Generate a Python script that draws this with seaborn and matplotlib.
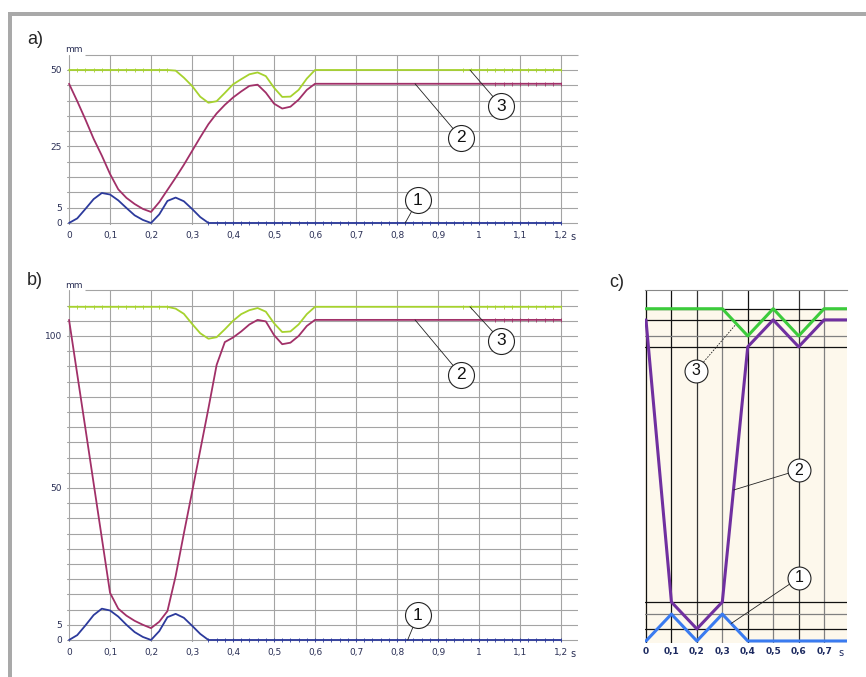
#%% Packages
import numpy as np
import pandas as pd
import matplotlib
matplotlib.use("Agg")
import matplotlib.pyplot as plt
from matplotlib.patches import Rectangle
import seaborn as sns

#%% Data (mm over s)
t_ab = np.round(np.linspace(0, 1.2, 61), 2)

a_curve1 = [0.0, 1.5, 4.6, 7.8, 9.8, 9.3, 7.4, 4.9, 2.5, 1.0,
            0.0, 2.8, 7.2, 8.3, 7.1, 4.6, 1.9, 0.0, 0.0, 0.0,
            0.0, 0.0, 0.0, 0.0, 0.0, 0.0, 0.0, 0.0, 0.0, 0.0,
            0.0, 0.0, 0.0, 0.0, 0.0, 0.0, 0.0, 0.0, 0.0, 0.0,
            0.0, 0.0, 0.0, 0.0, 0.0, 0.0, 0.0, 0.0, 0.0, 0.0,
            0.0, 0.0, 0.0, 0.0, 0.0, 0.0, 0.0, 0.0, 0.0, 0.0,
            0.0]
a_curve2 = [45.5, 39.8, 33.8, 27.5, 22.0, 16.0, 11.0, 8.2, 6.2, 4.6,
            3.6, 6.8, 10.8, 14.8, 19.0, 23.5, 28.0, 32.3, 35.8, 38.6,
            41.0, 43.0, 44.8, 45.2, 42.6, 39.0, 37.4, 38.0, 40.3, 43.5,
            45.5, 45.5, 45.5, 45.5, 45.5, 45.5, 45.5, 45.5, 45.5, 45.5,
            45.5, 45.5, 45.5, 45.5, 45.5, 45.5, 45.5, 45.5, 45.5, 45.5,
            45.5, 45.5, 45.5, 45.5, 45.5, 45.5, 45.5, 45.5, 45.5, 45.5,
            45.5]
a_curve3 = [50.0, 50.0, 50.0, 50.0, 50.0, 50.0, 50.0, 50.0, 50.0, 50.0,
            50.0, 50.0, 50.0, 49.8, 47.5, 44.8, 41.3, 39.3, 39.8, 42.5,
            45.3, 47.0, 48.6, 49.2, 48.0, 44.2, 41.2, 41.3, 43.5, 47.2,
            50.0, 50.0, 50.0, 50.0, 50.0, 50.0, 50.0, 50.0, 50.0, 50.0,
            50.0, 50.0, 50.0, 50.0, 50.0, 50.0, 50.0, 50.0, 50.0, 50.0,
            50.0, 50.0, 50.0, 50.0, 50.0, 50.0, 50.0, 50.0, 50.0, 50.0,
            50.0]

b_curve1 = [0.0, 1.6, 4.8, 8.2, 10.3, 9.7, 7.7, 5.0, 2.6, 1.0,
            0.0, 2.9, 7.5, 8.6, 7.3, 4.7, 2.0, 0.0, 0.0, 0.0,
            0.0, 0.0, 0.0, 0.0, 0.0, 0.0, 0.0, 0.0, 0.0, 0.0,
            0.0, 0.0, 0.0, 0.0, 0.0, 0.0, 0.0, 0.0, 0.0, 0.0,
            0.0, 0.0, 0.0, 0.0, 0.0, 0.0, 0.0, 0.0, 0.0, 0.0,
            0.0, 0.0, 0.0, 0.0, 0.0, 0.0, 0.0, 0.0, 0.0, 0.0,
            0.0]
b_curve2 = [105.3, 87.4, 69.5, 51.5, 33.5, 15.5, 10.3, 8.0, 6.3, 5.0,
            3.9, 6.0, 9.5, 21.0, 35.0, 48.6, 62.4, 76.2, 90.5, 98.0,
            99.5, 101.5, 103.8, 105.3, 104.8, 100.3, 97.3, 97.8, 100.0, 103.3,
            105.3, 105.3, 105.3, 105.3, 105.3, 105.3, 105.3, 105.3, 105.3, 105.3,
            105.3, 105.3, 105.3, 105.3, 105.3, 105.3, 105.3, 105.3, 105.3, 105.3,
            105.3, 105.3, 105.3, 105.3, 105.3, 105.3, 105.3, 105.3, 105.3, 105.3,
            105.3]
b_curve3 = [109.6, 109.6, 109.6, 109.6, 109.6, 109.6, 109.6, 109.6, 109.6, 109.6,
            109.6, 109.6, 109.6, 109.0, 107.3, 104.0, 100.9, 99.1, 99.6, 102.2,
            105.0, 107.2, 108.5, 109.2, 108.0, 104.2, 101.3, 101.5, 103.8, 107.2,
            109.6, 109.6, 109.6, 109.6, 109.6, 109.6, 109.6, 109.6, 109.6, 109.6,
            109.6, 109.6, 109.6, 109.6, 109.6, 109.6, 109.6, 109.6, 109.6, 109.6,
            109.6, 109.6, 109.6, 109.6, 109.6, 109.6, 109.6, 109.6, 109.6, 109.6,
            109.6]

# panel c: idealised, piecewise linear
t_c = [0.0, 0.1, 0.2, 0.3, 0.4, 0.5, 0.6, 0.7, 0.79]
c_curve1 = [0.0, 8.9, 0.0, 8.9, 0.0, 0.0, 0.0, 0.0, 0.0]
c_curve2 = [106.3, 12.9, 4.0, 12.9, 97.4, 106.3, 97.4, 106.3, 106.3]
c_curve3 = [110.0, 110.0, 110.0, 110.0, 101.0, 110.0, 101.0, 110.0, 110.0]

x_ticks_ab = [0, 0.1, 0.2, 0.3, 0.4, 0.5, 0.6, 0.7, 0.8, 0.9, 1.0, 1.1, 1.2]
x_labels_ab = ["0", "0,1", "0,2", "0,3", "0,4", "0,5", "0,6",
               "0,7", "0,8", "0,9", "1", "1,1", "1,2"]
y_labels_a = [0, 5, 25, 50]
y_labels_b = [0, 5, 50, 100]
x_labels_c = ["0", "0,1", "0,2", "0,3", "0,4", "0,5", "0,6", "0,7"]

#%% Long tables for seaborn
def long_df(t, curves):
    frames = [pd.DataFrame({"t": t, "mm": v, "curve": k}) for k, v in curves.items()]
    return pd.concat(frames, ignore_index=True)

df_a = long_df(t_ab, {"1": a_curve1, "2": a_curve2, "3": a_curve3})
df_b = long_df(t_ab, {"1": b_curve1, "2": b_curve2, "3": b_curve3})
df_c = long_df(t_c, {"1": c_curve1, "2": c_curve2, "3": c_curve3})

pal_ab = {"1": "#2c3a9c", "2": "#a13068", "3": "#a6d22e"}
pal_c = {"1": "#3a7bf0", "2": "#7030a0", "3": "#3ccb3c"}

#%% Figure
W, H = 866, 677
sns.set_style("white")
plt.rcParams["font.family"] = ["DejaVu Sans"]
fig = plt.figure(figsize=(W / 100, H / 100), dpi=100)

def px_axes(left, top, right, bottom):
    return fig.add_axes([left / W, 1 - bottom / H, (right - left) / W, (bottom - top) / H])

def ftext(x, y, s, **kw):
    fig.text(x / W, 1 - y / H, s, **kw)

# grey frame round the picture
fig.add_artist(Rectangle((8 / W, 0), 4 / W, (H - 12) / H, transform=fig.transFigure,
                         color="#a9a9a9", lw=0))
fig.add_artist(Rectangle((8 / W, 1 - 16 / H), (W - 8) / W, 4 / H, transform=fig.transFigure,
                         color="#a9a9a9", lw=0))

GRID = "#a4a4a4"
TICK = "#2a2f55"

def circle_note(ax, xc, yc, label, x0, y0, ms=18.7, fs=12.5, ls="-"):
    ax.plot([x0, xc], [y0, yc], color="#222222", lw=0.6, ls=ls, zorder=5, clip_on=False)
    ax.plot([xc], [yc], marker="o", ms=ms, mfc="white", mec="#222222", mew=0.8,
            zorder=6, clip_on=False)
    ax.text(xc, yc, label, ha="center", va="center", fontsize=fs, zorder=7,
            family="Liberation Sans", color="#111111")

def ab_panel(ax, df, ymax, ylab_vals, steps):
    sns.lineplot(data=df, x="t", y="mm", hue="curve", palette=pal_ab, lw=1.3,
                 estimator=None, sort=False, legend=False, ax=ax, zorder=3)
    # sample ticks on the flat stretches
    for key, keep in steps.items():
        sub = df[(df.curve == key) & keep(df.t)]
        ax.plot(sub.t, sub.mm, ls="none", marker="|", ms=2.4, mew=0.6,
                color=pal_ab[key], zorder=3)
    ax.set_xlim(-0.005, 1.241)
    ax.set_ylim(-0.5, ymax)
    yt = np.arange(0, ymax - 4, 5)
    ax.set_xticks(x_ticks_ab, x_labels_ab)
    ax.set_yticks(yt, [str(int(v)) if v in ylab_vals else "" for v in yt])
    ax.grid(True, color=GRID, lw=0.8)
    ax.hlines(ymax, 0.04, 1.241, color=GRID, lw=0.8, clip_on=False)
    sns.despine(ax=ax, left=True, bottom=True)
    ax.tick_params(length=0, labelsize=6.5, labelcolor=TICK)
    ax.tick_params(axis="x", pad=5)
    ax.tick_params(axis="y", pad=3.5)
    ax.set_xlabel("")
    ax.set_ylabel("")

#%% a)
ax_a = px_axes(67, 54.7, 577.8, 224.5)
ab_panel(ax_a, df_a, 55, y_labels_a,
         {"1": lambda t: t >= 0.34, "2": lambda t: t >= 1.04,
          "3": lambda t: (t <= 0.24) | (t >= 0.96)})
circle_note(ax_a, 1.054, 38.2, "3", 0.978, 50.0)
circle_note(ax_a, 0.956, 27.8, "2", 0.844, 45.5)
circle_note(ax_a, 0.851, 7.5, "1", 0.82, 0.0)
ftext(35, 40, "a)", fontsize=13, family="Liberation Sans", ha="center", va="center")
ftext(74, 49, "mm", fontsize=6.5, color=TICK, ha="center", va="center")
ftext(573, 237, "s", fontsize=7, color=TICK, ha="center", va="center")

#%% b)
ax_b = px_axes(67, 290.4, 577.8, 641.5)
ab_panel(ax_b, df_b, 115, y_labels_b,
         {"1": lambda t: t >= 0.34, "2": lambda t: t >= 1.04,
          "3": lambda t: (t <= 0.24) | (t >= 0.96)})
circle_note(ax_b, 1.054, 98.4, "3", 0.978, 109.6)
circle_note(ax_b, 0.956, 87.2, "2", 0.844, 105.3)
circle_note(ax_b, 0.851, 8.2, "1", 0.826, 0.0)
ftext(35, 281, "b)", fontsize=13, family="Liberation Sans", ha="center", va="center")
ftext(74, 285, "mm", fontsize=6.5, color=TICK, ha="center", va="center")
ftext(573, 654, "s", fontsize=7, color=TICK, ha="center", va="center")

#%% c)
ax_c = px_axes(644.7, 290, 847, 642.5)
ax_c.set_xlim(-0.005, 0.79)
ax_c.set_ylim(-0.5, 116.2)
ax_c.axhspan(-0.5, 110, color="#fdf8ec", lw=0, zorder=0)
c_levels = sorted(set(c_curve1 + c_curve2 + c_curve3) - {0.0})
ax_c.set_xticks(t_c[:-1], x_labels_c)
ax_c.set_yticks(c_levels, [""] * len(c_levels))
ax_c.grid(True, lw=0.9)
v_cols = ["#111111", "#111111", "#333333", "#808080", "#111111", "#808080", "#333333", "#808080"]
for gl, col in zip(ax_c.get_xgridlines(), v_cols):
    gl.set_color(col)
h_cols = {4.0: "#111111", 8.9: "#808080", 12.9: "#111111", 97.4: "#111111",
          101.0: "#808080", 106.3: "#111111", 110.0: "#111111"}
for gl, lev in zip(ax_c.get_ygridlines(), c_levels):
    gl.set_color(h_cols[lev])
sns.lineplot(data=df_c, x="t", y="mm", hue="curve", palette=pal_c, lw=2.2,
             estimator=None, sort=False, legend=False, ax=ax_c, zorder=3)
for side in ["left", "right", "bottom"]:
    ax_c.spines[side].set_visible(False)
ax_c.spines["top"].set_color("#888888")
ax_c.spines["top"].set_linewidth(0.8)
ax_c.tick_params(length=0, labelsize=6.5, labelcolor="#1d2a60", pad=3.5)
for lab in ax_c.get_xticklabels():
    lab.set_fontweight("bold")
ax_c.set_xlabel("")
ax_c.set_ylabel("")
circle_note(ax_c, 0.196, 89.4, "3", 0.35, 104.5, ms=16.5, fs=11.5, ls=(0, (2, 1.5)))
circle_note(ax_c, 0.601, 56.6, "2", 0.345, 50.0, ms=16.5, fs=11.5)
circle_note(ax_c, 0.601, 20.9, "1", 0.335, 5.8, ms=16.5, fs=11.5)
ftext(617, 283, "c)", fontsize=13, family="Liberation Sans", ha="center", va="center")
ftext(841, 653, "s", fontsize=7, color="#1d2a60", ha="center", va="center")

plt.savefig("out.png", dpi=100)
